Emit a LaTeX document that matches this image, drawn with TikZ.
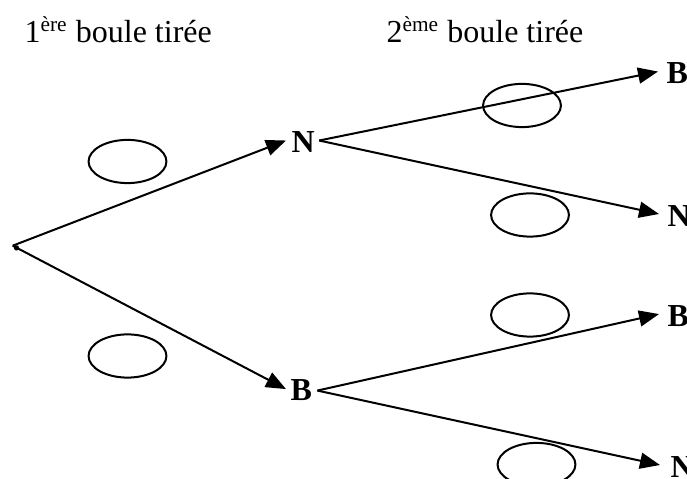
\documentclass[tikz,border=0pt]{standalone}
\usepackage{fontspec}
\setmainfont{Liberation Serif}
\usetikzlibrary{arrows.meta,shapes.geometric,calc}
\begin{document}
\begin{tikzpicture}[x=0.375pt,y=-0.375pt,
  lbl/.style={font=\fontsize{12}{14}\selectfont\bfseries, inner sep=0pt, anchor=base west},
  ttl/.style={font=\fontsize{12}{14}\selectfont, inner sep=0pt, anchor=base west},
  oval/.style={draw, ellipse, line width=0.75pt, inner sep=0pt, minimum width=29.2pt, minimum height=16.2pt},
  branch/.style={line width=0.75pt},
  arr/.style={branch, -{Triangle[length=7.5pt,width=6pt]}}]
\useasboundingbox (0,0) rectangle (687,479);
% titles
\node[ttl] (t1) at (24,43) {1\textsuperscript{ère} boule tirée};
\node[ttl] (t2) at (386,43) {2\textsuperscript{ème} boule tirée};
% root
\coordinate (O) at (12.7,245.7);
\node[font=\fontsize{12}{14}\selectfont\bfseries, inner sep=0pt] (dot) at (16.5,248) {.};
% first level
\node[lbl] (N1) at (291,153) {N};
\node[lbl] (B1) at (290,401) {B};
% second level
\node[lbl] (B2) at (666,84) {B};
\node[lbl] (N2) at (667,226.5) {N};
\node[lbl] (B3) at (667,326.5) {B};
\node[lbl] (N3) at (670,477.5) {N};
% ovals
\node[oval] (e1) at (127.5,161.5) {};
\node[oval] (e2) at (127.5,356) {};
\node[oval] (e3) at (522,105.5) {};
\node[oval] (e4) at (530,215) {};
\node[oval] (e5) at (530,315) {};
\node[oval] (e6) at (536.5,464.5) {};
% branches
\draw[arr] (O) -- ($(N1.west)+(-5,-2)$);
\draw[arr] (O) -- ($(B1.west)+(-4,-1.5)$);
\draw[arr] ($(N1.east)+(4,-2)$) -- ($(B2.west)+(-8,-2)$);
\draw[arr] ($(N1.east)+(4,-2)$) -- ($(N2.west)+(-8,-2)$);
\draw[arr] ($(B1.east)+(5,0)$) -- ($(B3.west)+(-8,-2)$);
\draw[arr] ($(B1.east)+(5,0)$) -- ($(N3.west)+(-10,-2)$);
\end{tikzpicture}
\end{document}
